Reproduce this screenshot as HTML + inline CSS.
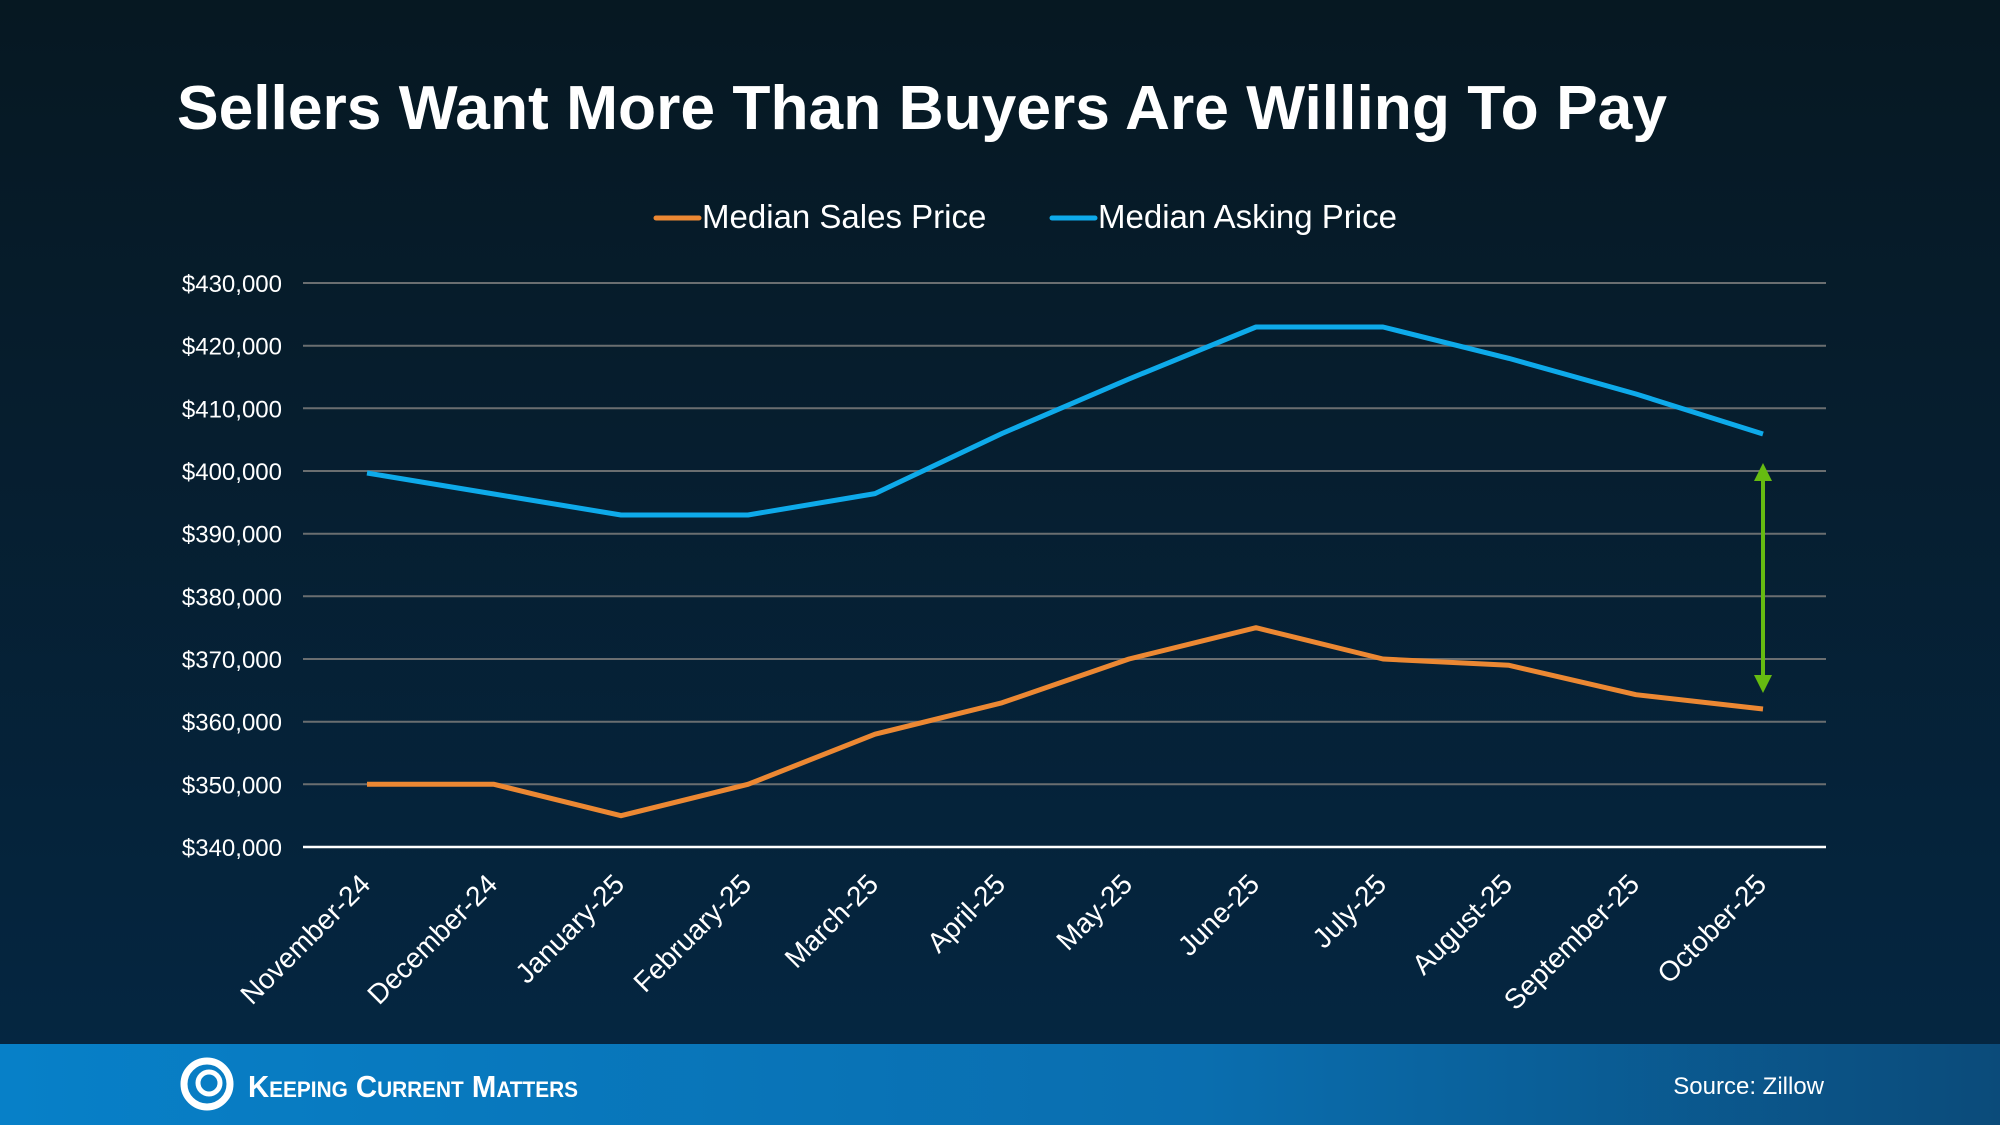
<!DOCTYPE html>
<html><head><meta charset="utf-8"><style>
html,body{margin:0;padding:0;width:2000px;height:1125px;overflow:hidden;background:#07192a;}
svg{display:block}
text{font-family:"Liberation Sans",Arial,sans-serif;}
</style></head><body>
<svg width="2000" height="1125" viewBox="0 0 2000 1125" xmlns="http://www.w3.org/2000/svg">
<defs>
<linearGradient id="bg" x1="0" y1="0" x2="0" y2="1">
<stop offset="0" stop-color="#061822"/><stop offset="1" stop-color="#052641"/>
</linearGradient>
<linearGradient id="ft" x1="0" y1="0" x2="1" y2="0">
<stop offset="0" stop-color="#0780c8"/><stop offset="0.6" stop-color="#0a6eaf"/><stop offset="1" stop-color="#0b4b7a"/>
</linearGradient>
</defs>
<rect width="2000" height="1044" fill="url(#bg)"/>
<rect y="1044" width="2000" height="81" fill="url(#ft)"/>
<text x="177" y="129" font-size="62" font-weight="bold" fill="#fff" textLength="1490" lengthAdjust="spacingAndGlyphs">Sellers Want More Than Buyers Are Willing To Pay</text>
<line x1="656" y1="218" x2="699" y2="218" stroke="#ec8833" stroke-width="5" stroke-linecap="round"/>
<text x="702" y="228" font-size="33" fill="#fff">Median Sales Price</text>
<line x1="1052" y1="218" x2="1095" y2="218" stroke="#0eaaea" stroke-width="5" stroke-linecap="round"/>
<text x="1098" y="228" font-size="33" fill="#fff">Median Asking Price</text>
<g stroke="#6a6e70" stroke-width="2">
<line x1="303" y1="283" x2="1826" y2="283"/><line x1="303" y1="345.7" x2="1826" y2="345.7"/>
<line x1="303" y1="408.3" x2="1826" y2="408.3"/><line x1="303" y1="471" x2="1826" y2="471"/>
<line x1="303" y1="533.7" x2="1826" y2="533.7"/><line x1="303" y1="596.3" x2="1826" y2="596.3"/>
<line x1="303" y1="659" x2="1826" y2="659"/><line x1="303" y1="721.7" x2="1826" y2="721.7"/>
<line x1="303" y1="784.3" x2="1826" y2="784.3"/>
</g>
<line x1="303" y1="847" x2="1826" y2="847" stroke="#fff" stroke-width="2.5"/>
<g font-size="24" fill="#fff" text-anchor="end">
<text x="282" y="292">$430,000</text><text x="282" y="354.7">$420,000</text>
<text x="282" y="417.3">$410,000</text><text x="282" y="480">$400,000</text>
<text x="282" y="542.7">$390,000</text><text x="282" y="605.3">$380,000</text>
<text x="282" y="668">$370,000</text><text x="282" y="730.7">$360,000</text>
<text x="282" y="793.3">$350,000</text><text x="282" y="856">$340,000</text>
</g>
<polyline fill="none" stroke="#0eaaea" stroke-width="5" stroke-linejoin="round" points="367,473 494,494 621,515 748,515 875,493.6 1002,433.5 1129,379 1256,327 1383,327 1509,358.4 1636,394 1763,434"/>
<polyline fill="none" stroke="#ec8833" stroke-width="5" stroke-linejoin="round" points="367,784.3 494,784.3 621,815.7 748,784.3 875,734.2 1002,702.8 1129,659 1256,627.7 1383,659 1509,665.3 1636,694.7 1763,709"/>
<line x1="1763" y1="478" x2="1763" y2="678" stroke="#66bb11" stroke-width="4"/>
<polygon points="1763,463 1754,481 1772,481" fill="#66bb11"/>
<polygon points="1763,693 1754,675 1772,675" fill="#66bb11"/>
<g font-size="28" fill="#fff" text-anchor="end">
<text transform="translate(372,886) rotate(-45)">November-24</text>
<text transform="translate(499,886) rotate(-45)">December-24</text>
<text transform="translate(626,886) rotate(-45)">January-25</text>
<text transform="translate(753,886) rotate(-45)">February-25</text>
<text transform="translate(880,886) rotate(-45)">March-25</text>
<text transform="translate(1007,886) rotate(-45)">April-25</text>
<text transform="translate(1134,886) rotate(-45)">May-25</text>
<text transform="translate(1261,886) rotate(-45)">June-25</text>
<text transform="translate(1388,886) rotate(-45)">July-25</text>
<text transform="translate(1514,886) rotate(-45)">August-25</text>
<text transform="translate(1641,886) rotate(-45)">September-25</text>
<text transform="translate(1768,886) rotate(-45)">October-25</text>
</g>
<circle cx="207" cy="1084" r="23" fill="none" stroke="#fff" stroke-width="7"/>
<circle cx="209" cy="1083" r="11" fill="none" stroke="#fff" stroke-width="5"/>
<text x="248" y="1097" font-size="31" fill="#fff" font-weight="bold" style="font-variant:small-caps" textLength="330" lengthAdjust="spacingAndGlyphs">Keeping Current Matters</text>
<text x="1824" y="1094" font-size="24" fill="#fff" text-anchor="end">Source: Zillow</text>
</svg>
</body></html>
